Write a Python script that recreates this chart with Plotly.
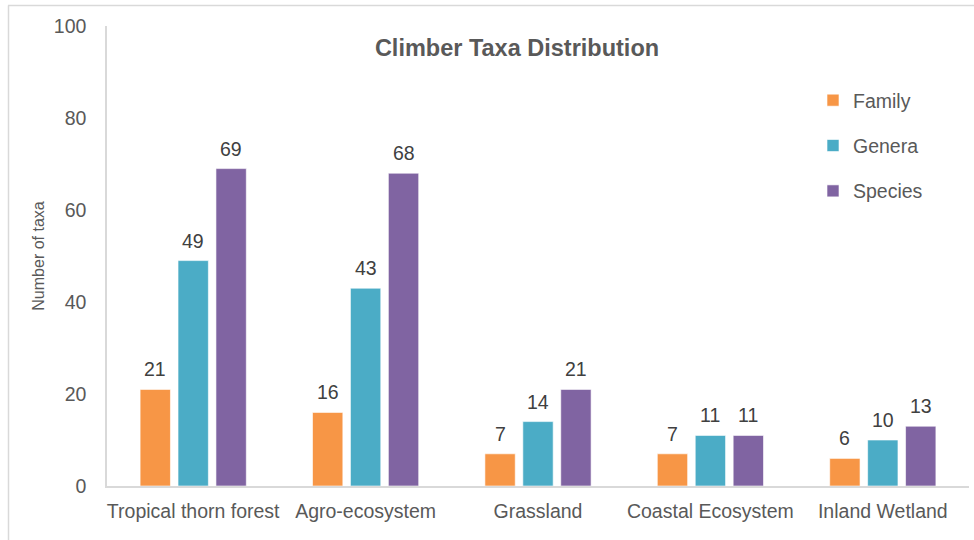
import plotly.graph_objects as go

# Habitat categories and taxa counts
habitats = ["Tropical thorn forest", "Agro-ecosystem", "Grassland", "Coastal Ecosystem", "Inland Wetland"]
family = [21, 16, 7, 7, 6]
genera = [49, 43, 14, 11, 10]
species = [69, 68, 21, 11, 13]

series = [
    ("Family", family, "#F79646"),
    ("Genera", genera, "#4BACC6"),
    ("Species", species, "#8064A2"),
]

W, H = 974, 540
L, R, T, B = 107, 5, 26, 54
plot_w = W - L - R
plot_h = H - T - B

FONT = "Liberation Sans, Arial, sans-serif"
GREY = "#595959"
BAR_STEP = 38  # horizontal distance between neighbouring bars in a group, px

fig = go.Figure()
for i, (name, vals, color) in enumerate(series):
    fig.add_trace(go.Bar(
        name=name,
        x=habitats,
        y=vals,
        marker=dict(color=color, line=dict(color="rgba(255,255,255,0.6)", width=1)),
        legendgroup=f"g{i}",
    ))
    # value labels above each bar
    for cat, v in zip(habitats, vals):
        fig.add_annotation(
            x=cat, y=v, xref="x", yref="y",
            text=str(v), showarrow=False,
            xanchor="center", yanchor="bottom",
            xshift=(i - 1) * BAR_STEP, yshift=7,
            font=dict(family=FONT, size=19.5, color="#404040"),
        )


def px_x(px):
    return (px - L) / plot_w


def px_y(py):
    return (H - B - py) / plot_h


# Outer chart frame (top and left edges)
frame = dict(type="line", xref="paper", yref="paper",
             line=dict(color="#D9D9D9", width=1.5), layer="below")
fig.add_shape(**frame, x0=px_x(8), x1=px_x(980), y0=px_y(5.5), y1=px_y(5.5))
fig.add_shape(**frame, x0=px_x(8.5), x1=px_x(8.5), y0=px_y(5.5), y1=px_y(560))

fig.update_layout(
    width=W, height=H,
    margin=dict(l=L, r=R, t=T, b=B, pad=0),
    paper_bgcolor="white",
    plot_bgcolor="white",
    barmode="group",
    bargap=0.34,
    bargroupgap=0.2,
    font=dict(family=FONT, color=GREY),
    title=dict(
        text="<b>Climber Taxa Distribution</b>",
        x=517 / W, xref="container", xanchor="center",
        y=1 - 48 / H, yref="container", yanchor="middle",
        font=dict(family=FONT, size=23.5, color=GREY),
    ),
    legend=dict(
        x=px_x(813), xanchor="left",
        y=px_y(81), yanchor="top",
        font=dict(family=FONT, size=19.5, color=GREY),
        tracegroupgap=17,
        bgcolor="rgba(0,0,0,0)",
        itemwidth=30,
    ),
    xaxis=dict(
        showline=True, linecolor="#D9D9D9", linewidth=1.5,
        ticks="", showgrid=False,
        tickfont=dict(family=FONT, size=19.5, color=GREY),
        ticklabelstandoff=7,
    ),
    yaxis=dict(
        range=[0, 100], dtick=20,
        showline=True, linecolor="#D9D9D9", linewidth=1.5,
        showgrid=False, zeroline=False, ticks="",
        tickfont=dict(family=FONT, size=19.5, color=GREY),
        ticklabelstandoff=15,
        title=dict(text="Number of taxa", standoff=5,
                   font=dict(family=FONT, size=16, color=GREY)),
    ),
)

fig.write_html("out.html")
